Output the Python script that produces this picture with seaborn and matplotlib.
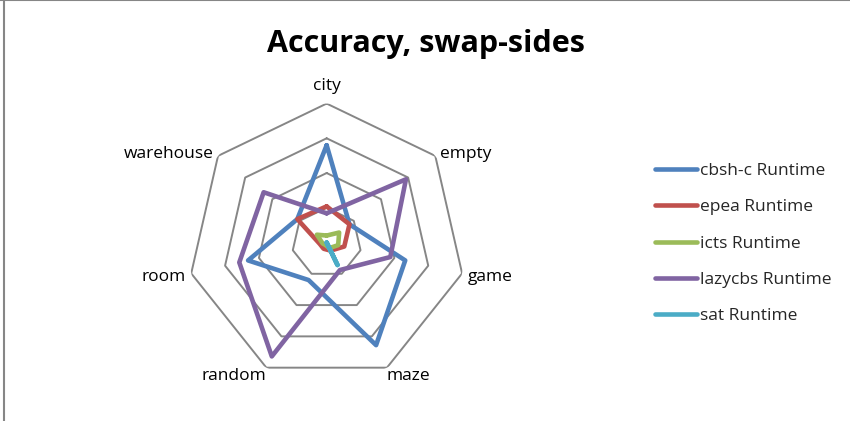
import numpy as np
import pandas as pd
import matplotlib
matplotlib.use("Agg")
import matplotlib.pyplot as plt
import seaborn as sns

# categories, clockwise from the top
categories = ["city", "empty", "game", "maze", "random", "room", "warehouse"]

# values (fraction of the outer ring)
cbsh_c = [0.70, 0.21, 0.58, 0.82, 0.30, 0.58, 0.27]
epea = [0.26, 0.21, 0.13, 0.065, 0.05, 0.05, 0.27]
icts = [0.05, 0.115, 0.085, 0.045, 0.02, 0.03, 0.09]
lazycbs = [0.21, 0.73, 0.47, 0.22, 0.91, 0.645, 0.58]
sat = [0.0, 0.0, 0.0, 0.18, 0.0, 0.0, 0.0]

series_names = ["cbsh-c Runtime", "epea Runtime", "icts Runtime",
                "lazycbs Runtime", "sat Runtime"]
series_values = [cbsh_c, epea, icts, lazycbs, sat]
colors = ["#4F81BD", "#C0504D", "#9BBB59", "#8064A2", "#4BACC6"]
ring_levels = [0.25, 0.5, 0.75, 1.0]

sns.set_theme(style="white")
plt.rcParams["font.family"] = ["Open Sans", "DejaVu Sans"]

# long table, each polygon closed by repeating the first point
angles = np.linspace(0, 2 * np.pi, len(categories), endpoint=False)
rows = []
for name, vals in zip(series_names, series_values):
    for i in range(len(categories) + 1):
        k = i % len(categories)
        rows.append({"series": name, "order": i,
                     "angle": angles[k] if i < len(categories) else 2 * np.pi,
                     "value": vals[k]})
df = pd.DataFrame(rows)

fig = plt.figure(figsize=(8.5, 4.21), dpi=100)
ax = fig.add_axes([0.2208, 0.094, 0.327, 0.660], projection="polar")
ax.set_theta_zero_location("N")
ax.set_theta_direction(-1)

# heptagon grid
closed_angles = np.append(angles, 2 * np.pi)
for lvl in ring_levels:
    ax.plot(closed_angles, [lvl] * len(closed_angles), color="#868686",
            linewidth=1.4, zorder=1)

sns.lineplot(data=df, x="angle", y="value", hue="series", units="series",
             estimator=None, sort=False, palette=dict(zip(series_names, colors)),
             linewidth=3.3, ax=ax, zorder=3)

ax.set_ylim(0, 1)
ax.grid(False)
ax.spines["polar"].set_visible(False)
ax.set_yticks([])
ax.set_xticks([])
ax.set_xlabel("")
ax.set_ylabel("")

# category labels, anchored at the outer vertices like Excel does
for ang, cat in zip(angles, categories):
    s, c = np.sin(ang), np.cos(ang)
    ha = "left" if s > 0.1 else ("right" if s < -0.1 else "center")
    if c > 0.9:
        va, r = "bottom", 1.07
    elif c < -0.8:
        va, r = "top", 1.0
    else:
        va, r = "center_baseline", 1.04
    ax.text(ang, r, cat, ha=ha, va=va, fontsize=12.5, color="black")

handles, labels = ax.get_legend_handles_labels()
leg = ax.legend(handles, labels, loc="center left", bbox_to_anchor=(1.625, 0.496),
                frameon=False, fontsize=12.5, handlelength=2.4,
                labelspacing=1.16, handletextpad=0.2)
for ln in leg.get_lines():
    ln.set_linewidth(3.3)

fig.text(0.501, 0.895, "Accuracy, swap-sides", ha="center", va="center",
         fontsize=22, fontweight="bold", color="black")

# spreadsheet frame at the left / top edge
fig.add_artist(plt.Line2D([0.0045, 0.0045], [0, 1], color="#868686", linewidth=1.5,
                          transform=fig.transFigure))
fig.add_artist(plt.Line2D([0, 1], [0.999, 0.999], color="#868686", linewidth=1.5,
                          transform=fig.transFigure))

fig.savefig("out.png", dpi=100)
